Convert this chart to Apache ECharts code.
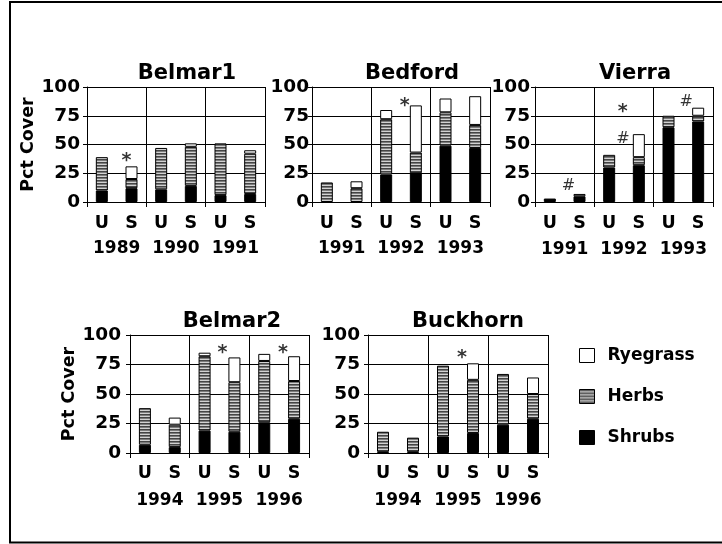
<!DOCTYPE html>
<html>
<head>
<meta charset="utf-8">
<script src="https://cdn.jsdelivr.net/npm/echarts@6/dist/echarts.min.js"></script>
<style>
  html, body { margin: 0; padding: 0; background: #fff; }
  #chart { width: 722px; height: 544px; }
</style>
</head>
<body>
<div id="chart"></div>
<script>
// Plant cover (%) by treatment: U = unseeded, S = seeded
const treatments = ['U', 'S', 'U', 'S', 'U', 'S'];
const yTicks = [0, 25, 50, 75, 100];

const belmar1Years = ['1989', '1990', '1991'];
const belmar1Shrubs = [10, 12, 11, 14, 6, 7];
const belmar1Herbs = [29, 8, 36, 34, 45, 35];
const belmar1Rye = [0, 11, 0, 3, 0, 3];

const bedfordYears = ['1991', '1992', '1993'];
const bedfordShrubs = [0, 0, 24, 25, 49, 47];
const bedfordHerbs = [17, 12, 48, 18, 29, 20];
const bedfordRye = [0, 6, 8, 41, 12, 25];

const vierraYears = ['1991', '1992', '1993'];
const vierraShrubs = [3, 5, 30, 32, 65, 70];
const vierraHerbs = [0, 0, 11, 7, 10, 5];
const vierraRye = [0, 2, 0, 20, 0, 7];

const belmar2Years = ['1994', '1995', '1996'];
const belmar2Shrubs = [7, 5, 19, 18, 26, 29];
const belmar2Herbs = [31, 19, 63, 42, 52, 32];
const belmar2Rye = [0, 6, 3, 21, 6, 21];

const buckhornYears = ['1994', '1995', '1996'];
const buckhornShrubs = [1, 1, 14, 17, 24, 29];
const buckhornHerbs = [17, 12, 60, 45, 43, 21];
const buckhornRye = [0, 0, 0, 14, 0, 14];

// significance marks: [category index, height, symbol]
const belmar1Marks = [[1, 39, '*']];
const bedfordMarks = [[3, 87, '*']];
const vierraMarks = [[1, 14, '#'], [3, 82, '*'], [3, 55, '#'], [5, 87, '#']];
const belmar2Marks = [[3, 88, '*'], [5, 88, '*']];
const buckhornMarks = [[3, 84, '*']];

const FONT = 'DejaVu Sans';

// horizontal-stripe fill for the herb layer
function stripeFill() {
  const c = document.createElement('canvas');
  c.width = 4; c.height = 3;
  const g = c.getContext('2d');
  const rows = ['#454545', '#7c7c7c', '#d2d2d2'];
  rows.forEach((col, i) => { g.fillStyle = col; g.fillRect(0, i, 4, 1); });
  return { image: c, repeat: 'repeat' };
}
const herbFill = stripeFill();

const panels = [
  { name: 'Belmar1', years: belmar1Years, shrubs: belmar1Shrubs, herbs: belmar1Herbs, rye: belmar1Rye, marks: belmar1Marks,
    grid: { left: 87, top: 87, width: 178, height: 115 }, titleX: 182, titleY: 58, yName: 'Pct Cover', yMargin: 7,
    catMargin: 12, yearMargin: 38, markDx: [-5, 0, 0, 0] },
  { name: 'Bedford', years: bedfordYears, shrubs: bedfordShrubs, herbs: bedfordHerbs, rye: bedfordRye, marks: bedfordMarks,
    grid: { left: 312, top: 87, width: 178, height: 115 }, titleX: 407, titleY: 58, yName: '', yMargin: 3,
    catMargin: 12, yearMargin: 38, markDx: [-11, 0, 0, 0] },
  { name: 'Vierra', years: vierraYears, shrubs: vierraShrubs, herbs: vierraHerbs, rye: vierraRye, marks: vierraMarks,
    grid: { left: 535, top: 87, width: 178, height: 115 }, titleX: 630, titleY: 58, yName: '', yMargin: 5,
    catMargin: 12, yearMargin: 39, markDx: [-11, -16, -16, -12] },
  { name: 'Belmar2', years: belmar2Years, shrubs: belmar2Shrubs, herbs: belmar2Herbs, rye: belmar2Rye, marks: belmar2Marks,
    grid: { left: 130, top: 335, width: 179, height: 118 }, titleX: 227, titleY: 306, yName: 'Pct Cover', yMargin: 9,
    catMargin: 11, yearMargin: 39, markDx: [-12, -11, 0, 0] },
  { name: 'Buckhorn', years: buckhornYears, shrubs: buckhornShrubs, herbs: buckhornHerbs, rye: buckhornRye, marks: buckhornMarks,
    grid: { left: 368, top: 335, width: 180, height: 118 }, titleX: 463, titleY: 306, yName: '', yMargin: 8,
    catMargin: 11, yearMargin: 39, markDx: [-11, 0, 0, 0] }
];

const blank = v => (v === 0 ? '-' : v);
const labelFont = { fontFamily: FONT, fontWeight: 'bold', color: '#000' };

const option = {
  backgroundColor: '#fff',
  animation: false,
  title: panels.map(p => ({
    text: p.name, left: p.titleX, top: p.titleY, textAlign: 'center',
    textStyle: { fontFamily: FONT, fontWeight: 'bold', fontSize: 21, color: '#000' }
  })),
  grid: panels.map(p => p.grid),
  xAxis: [],
  yAxis: [],
  series: [],
  legend: {
    orient: 'vertical', left: 579, top: 347, padding: 0, itemWidth: 15, itemHeight: 14, itemGap: 24,
    icon: 'rect',
    data: ['Ryegrass', 'Herbs', 'Shrubs'],
    textStyle: { fontFamily: FONT, fontWeight: 'bold', fontSize: 17, color: '#000', padding: [0, 0, 0, 8] },
    itemStyle: { borderColor: '#000', borderWidth: 1 }
  },
  graphic: [{
    type: 'rect', shape: { x: 10, y: 2, width: 730, height: 540.5 },
    style: { fill: 'none', stroke: '#000', lineWidth: 2 }, silent: true
  }]
};

panels.forEach((p, i) => {
  // treatment axis carries the bars
  option.xAxis.push({
    type: 'category', gridIndex: i, data: treatments, position: 'bottom',
    axisLine: { show: true, lineStyle: { color: '#000', width: 1 } },
    axisTick: { show: false }, splitLine: { show: false },
    axisLabel: Object.assign({ fontSize: 17.5, margin: p.catMargin, interval: 0 }, labelFont)
  });
  // year axis draws the group dividers and year labels
  option.xAxis.push({
    type: 'category', gridIndex: i, data: p.years, position: 'bottom',
    axisLine: { show: false },
    axisTick: { show: true, length: 5, lineStyle: { color: '#000', width: 1 } },
    splitLine: { show: true, interval: 0, lineStyle: { color: '#000', width: 1 } },
    axisLabel: Object.assign({ fontSize: 17, margin: p.yearMargin, interval: 0 }, labelFont)
  });
  option.yAxis.push({
    type: 'value', gridIndex: i, min: yTicks[0], max: yTicks[yTicks.length - 1], interval: 25,
    name: p.yName, nameLocation: 'middle', nameGap: 44, nameRotate: 90,
    nameTextStyle: { fontFamily: FONT, fontWeight: 'bold', fontSize: 17.5, color: '#000' },
    axisLine: { show: true, lineStyle: { color: '#000', width: 1 } },
    axisTick: { show: true, length: 4, lineStyle: { color: '#000' } },
    splitLine: { show: true, lineStyle: { color: '#000', width: 1 } },
    axisLabel: Object.assign({ fontSize: 18.5, margin: p.yMargin }, labelFont)
  });
  const xi = i * 2;
  const common = { type: 'bar', xAxisIndex: xi, yAxisIndex: i, stack: 'cover' + i, barWidth: 12, silent: true };
  option.series.push(Object.assign({}, common, {
    name: 'Shrubs', data: p.shrubs.map(blank),
    itemStyle: { color: '#000', borderColor: '#000', borderWidth: 1 }
  }));
  option.series.push(Object.assign({}, common, {
    name: 'Herbs', data: p.herbs.map(blank),
    itemStyle: { color: herbFill, borderColor: '#000', borderWidth: 1 }
  }));
  option.series.push(Object.assign({}, common, {
    name: 'Ryegrass', data: p.rye.map(blank),
    itemStyle: { color: '#fff', borderColor: '#000', borderWidth: 1 }
  }));
  option.series.push({
    type: 'scatter', xAxisIndex: xi, yAxisIndex: i, silent: true,
    symbol: 'circle', symbolSize: 1, itemStyle: { color: 'rgba(0,0,0,0)' },
    data: p.marks.map((m, k) => ({
      value: [m[0], m[1]],
      label: {
        show: true, position: 'inside', formatter: m[2],
        offset: [p.markDx[k], m[2] === '*' ? 4 : 0],
        fontFamily: FONT, fontSize: m[2] === '*' ? 19 : 16, fontWeight: m[2] === '*' ? 'bold' : 'normal', color: '#000'
      }
    }))
  });
});

const chart = echarts.init(document.getElementById('chart'), null, { renderer: 'canvas' });
chart.setOption(option);
</script>
</body>
</html>
